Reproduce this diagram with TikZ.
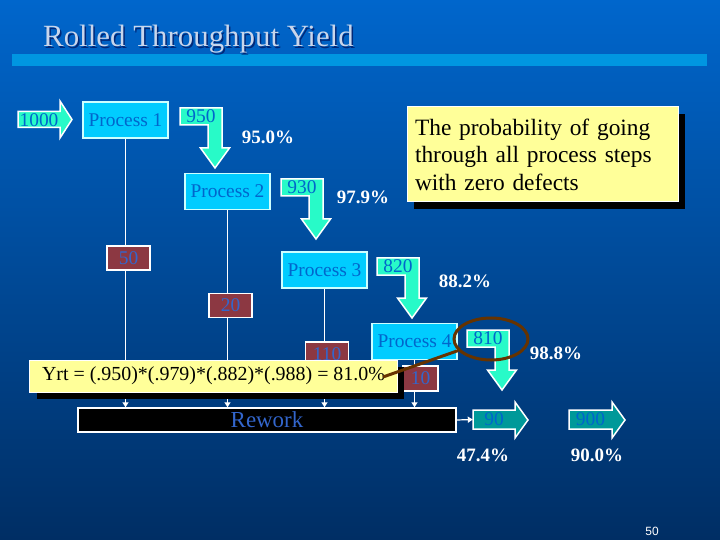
\documentclass[tikz,border=0pt]{standalone}
\usepackage{fontspec}
\setmainfont{Liberation Serif}
\newfontfamily\pagefont{Liberation Sans}
\usetikzlibrary{shapes,arrows.meta,shadows,calc}

\definecolor{bgtop}{RGB}{0,102,204}
\definecolor{bgbot}{RGB}{0,46,100}
\definecolor{barblue}{RGB}{0,150,225}
\definecolor{titletext}{RGB}{200,214,236}
\definecolor{titleshade}{RGB}{0,40,120}
\definecolor{procfill}{RGB}{0,204,255}
\definecolor{procline}{RGB}{204,255,255}
\definecolor{proctext}{RGB}{0,102,204}
\definecolor{goodfill}{RGB}{40,250,200}
\definecolor{scrapfill}{RGB}{0,153,153}
\definecolor{lossfill}{RGB}{140,56,66}
\definecolor{losstext}{RGB}{51,102,204}
\definecolor{notefill}{RGB}{255,255,153}
\definecolor{ringbrown}{RGB}{102,51,0}

% good units leaving a step: label box bent into a down arrow
\newcommand{\yieldarrow}[3]{%
  \begin{scope}[shift={#2}]
    \draw [good] (0,0) -- (42,0) -- (42,40) -- (49.5,40) -- (35,60)
      -- (20.5,40) -- (28,40) -- (28,17) -- (0,17) -- cycle;
    \node [count] (#1) at (21,8.5) {#3};
  \end{scope}}

\begin{document}
\begin{tikzpicture}[x=1bp, y=-1bp]
  \tikzset{
    process/.style={draw=procline, fill=procfill, text=proctext, line width=1.5bp,
      minimum width=85bp, minimum height=36bp, inner sep=0pt,
      font=\fontsize{19.5}{22}\selectfont},
    loss/.style={draw=white, fill=lossfill, text=losstext, line width=1.2bp,
      minimum width=43bp, minimum height=24bp, inner sep=0pt,
      font=\fontsize{19.5}{22}\selectfont},
    good/.style={draw=white, fill=goodfill, line width=1.5bp},
    scrap/.style={draw=white, fill=scrapfill, line width=1.5bp},
    count/.style={text=proctext, inner sep=0pt, font=\fontsize{19.5}{22}\selectfont},
    yield/.style={text=white, inner sep=0pt, font=\fontsize{19}{22}\selectfont\bfseries},
    drop/.style={draw=white, line width=1.2bp, -{Triangle[width=6bp,length=5bp]}},
    note/.style={draw=white, fill=notefill, line width=1bp, text=black,
      drop shadow={shadow xshift=7bp, shadow yshift=-7bp, opacity=1, fill=black}}
  }
  \useasboundingbox (0,0) rectangle (720,540);
  \shade [top color=bgtop, bottom color=bgbot] (0,0) rectangle (720,540);

  % title
  \fill [barblue] (12,54) rectangle (707,66);
  \node [anchor=base west, inner sep=0pt, text=titleshade,
    font=\fontsize{31}{34}\selectfont] at (44.5,48.5) {Rolled Throughput Yield};
  \node [anchor=base west, inner sep=0pt, text=titletext,
    font=\fontsize{31}{34}\selectfont] (title) at (43,47) {Rolled Throughput Yield};

  % process steps and rework
  \node [process] (p1) at (125.5,120) {Process 1};
  \node [process] (p2) at (227.5,191.5) {Process 2};
  \node [process] (p3) at (324.5,270) {Process 3};
  \node [process] (p4) at (414.5,341.5) {Process 4};
  \node [draw=white, fill=black, text=losstext, line width=1.5bp,
    minimum width=378bp, minimum height=24bp, inner sep=0pt,
    font=\fontsize{23}{24}\selectfont] (rework) at (267,420) {Rework};

  \foreach \p in {p1,p2,p3,p4}
    \draw [drop] (\p.south) -- (\p.south |- rework.north);

  \node [loss] (l1) at (128.5,258) {50};
  \node [loss] (l2) at (230.5,305.5) {20};
  \node [loss] (l3) at (327,354) {110};
  \node [loss, minimum width=35bp, minimum height=25bp] (l4) at (420.5,378.5) {10};

  % input
  \draw [good] (18,111.5) -- (60,111.5) -- (60,101) -- (72,119.5) -- (60,138)
    -- (60,127.5) -- (18,127.5) -- cycle;
  \node [count] (in) at (39,120) {1000};

  \yieldarrow{c1}{(180,108)}{950}
  \yieldarrow{c2}{(281,179)}{930}
  \yieldarrow{c3}{(377,258)}{820}
  \yieldarrow{c4}{(467,330)}{810}

  \node [yield] (y1) at (268,137) {95.0\%};
  \node [yield] (y2) at (363,197) {97.9\%};
  \node [yield] (y3) at (465,281) {88.2\%};
  \node [yield] (y4) at (556,353) {98.8\%};

  % output of rework and first time through
  \draw [scrap] (473,410) -- (515,410) -- (515,402) -- (528,420) -- (515,438)
    -- (515,429) -- (473,429) -- cycle;
  \node [count, minimum width=42bp] (s1) at (494,419.5) {90};
  \draw [scrap] (569,410) -- (612,410) -- (612,402) -- (625,420) -- (612,438)
    -- (612,429) -- (569,429) -- cycle;
  \node [count, minimum width=43bp] (s2) at (590.5,419.5) {900};
  \draw [drop] (rework.east) -- (s1.west);

  \node [yield] (y5) at (483,455) {47.4\%};
  \node [yield] (y6) at (597,455) {90.0\%};

  % notes
  \node [note, text width=255bp, align=left, inner xsep=8bp, inner ysep=4bp,
    minimum height=95bp, font=\fontsize{23.5}{27.5}\selectfont] (zero)
    at (542.5,154.5) {The probability of going\\through all process steps\\with zero defects};
  \node [note, inner xsep=8bp, minimum width=367bp, minimum height=32bp,
    font=\fontsize{20}{22}\selectfont] (yrt) at (213.5,376)
    {Yrt = (.950)*(.979)*(.882)*(.988) = 81.0\%};

  \node [ellipse, draw=ringbrown, line width=3bp, minimum width=74bp,
    minimum height=42bp] (ring) at (491,339) {};
  \coordinate (yrtend) at (383,377);
  \draw [ringbrown, line width=3bp] (yrtend) -- (ring);

  \node [text=white, font=\pagefont\fontsize{12}{14}\selectfont] (page) at (652,531) {50};
\end{tikzpicture}
\end{document}
